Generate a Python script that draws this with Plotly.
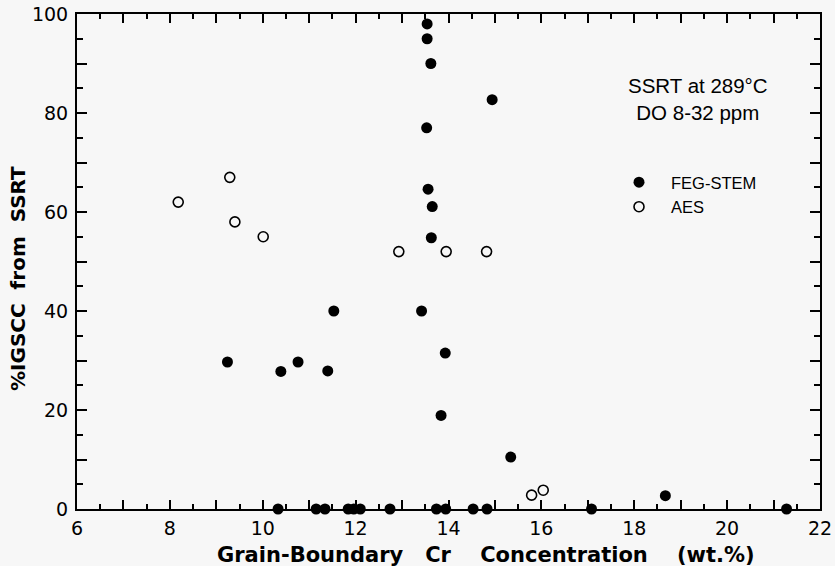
import plotly.graph_objects as go

# ---- data ----
feg_x = [13.54, 13.54, 13.62, 14.94, 13.53, 13.56, 13.65, 13.63, 11.53, 13.42,
         13.93, 9.24, 10.39, 10.76, 11.40, 13.84, 15.34, 18.67,
         10.33, 11.15, 11.34, 11.84, 11.96, 12.10, 12.74, 13.74, 13.94,
         14.53, 14.83, 17.08, 21.28]
feg_y = [98, 95, 90, 82.7, 77, 64.6, 61.1, 54.8, 40, 40,
         31.5, 29.7, 27.8, 29.7, 27.9, 18.9, 10.5, 2.7,
         0, 0, 0, 0, 0, 0, 0, 0, 0,
         0, 0, 0, 0]

aes_x = [8.18, 9.29, 9.40, 10.01, 12.93, 13.95, 14.82, 15.79, 16.04]
aes_y = [62, 67, 58, 55, 52, 52, 52, 2.8, 3.8]

x_tickvals = list(range(6, 23))
x_ticktext = [str(v) if v % 2 == 0 else "" for v in x_tickvals]
y_tickvals = list(range(0, 101, 10))
y_ticktext = [str(v) if v % 20 == 0 else "" for v in y_tickvals]

x_title = "Grain-Boundary\u00a0\u00a0\u00a0Cr\u00a0\u00a0\u00a0\u00a0Concentration\u00a0\u00a0\u00a0\u00a0(wt.%)"
y_title = "%IGSCC\u00a0\u00a0from\u00a0\u00a0SSRT"
note_text = "SSRT at 289°C<br>DO 8-32 ppm"

BG = "#f7f7f7"
TICKFONT = dict(family="DejaVu Sans", size=19, color="black")
XTITLEFONT = dict(family="DejaVu Sans", size=21, color="black", weight="bold")
YTITLEFONT = dict(family="DejaVu Sans", size=20, color="black", weight="bold")
TEXTFONT = dict(family="Liberation Sans, Arial", size=20.5, color="black")

fig = go.Figure()
fig.add_trace(go.Scatter(
    x=feg_x, y=feg_y, mode="markers", name="FEG-STEM",
    marker=dict(symbol="circle", size=11, color="black"),
    cliponaxis=False,
))
fig.add_trace(go.Scatter(
    x=aes_x, y=aes_y, mode="markers", name="AES",
    marker=dict(symbol="circle-open", size=10, color="black",
                line=dict(width=1.6, color="black")),
    cliponaxis=False,
))

axis_common = dict(
    showgrid=False, zeroline=False, showline=True, linewidth=2,
    linecolor="black", ticks="inside", mirror="ticks",
    tickcolor="black", tickwidth=1.5, tickfont=TICKFONT, automargin=False,
)

fig.update_xaxes(
    range=[6, 22], tickmode="array", tickvals=x_tickvals, ticktext=x_ticktext,
    ticklen=9, ticklabelstandoff=1,
    minor=dict(dtick=0.5, ticks="inside", ticklen=5, tickcolor="black", tickwidth=1.5),
    **axis_common,
)
fig.update_yaxes(
    range=[0, 100], tickmode="array", tickvals=y_tickvals, ticktext=y_ticktext,
    ticklen=10, ticklabelstandoff=3,
    minor=dict(dtick=5, ticks="inside", ticklen=6, tickcolor="black", tickwidth=1.5),
    **axis_common,
)

plot_l, plot_r, plot_t, plot_b = 77, 820, 14, 509
pw, ph = plot_r - plot_l, plot_b - plot_t
def px(xp):
    return (xp - plot_l) / pw
def py(yp):
    return (plot_b - yp) / ph

fig.update_layout(
    width=835, height=566,
    margin=dict(l=plot_l, r=835 - plot_r, t=plot_t, b=566 - plot_b),
    paper_bgcolor=BG, plot_bgcolor=BG,
    showlegend=True,
    legend=dict(x=px(607), y=py(165), xanchor="left", yanchor="top",
                bgcolor="rgba(0,0,0,0)", itemwidth=54, tracegroupgap=0,
                font=dict(family="Liberation Sans, Arial", size=16.5, color="black")),
    annotations=[
        dict(text=note_text, x=px(698), y=py(98.5), xref="paper", yref="paper",
             showarrow=False, font=TEXTFONT, align="center",
             xanchor="center", yanchor="middle"),
        dict(text=x_title, x=px(486), y=py(555), xref="paper", yref="paper",
             showarrow=False, font=XTITLEFONT, xanchor="center", yanchor="middle"),
        dict(text=y_title, x=px(18), y=py(279), xref="paper", yref="paper",
             showarrow=False, font=YTITLEFONT, textangle=-90,
             xanchor="center", yanchor="middle"),
    ],
)

fig.write_html("out.html")
